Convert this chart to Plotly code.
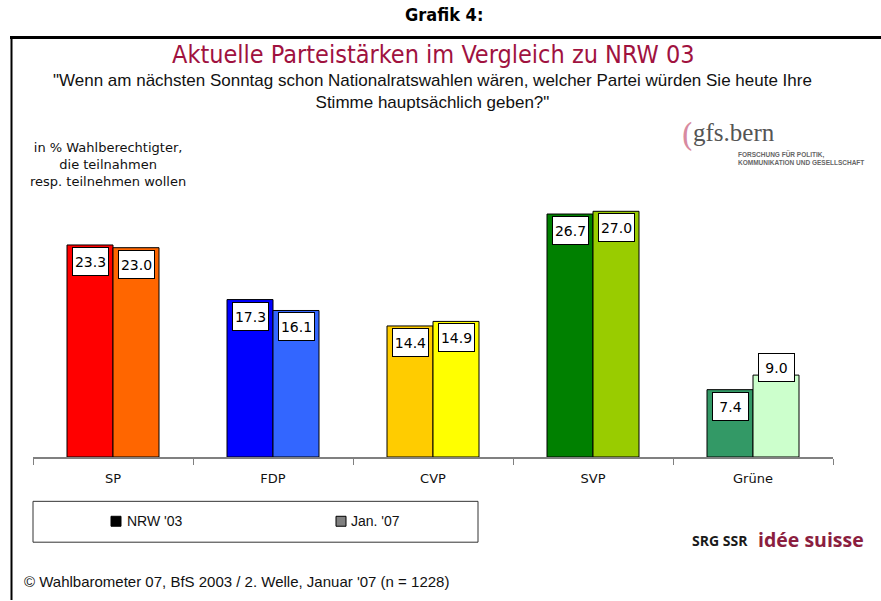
import plotly.graph_objects as go

parties = ["SP", "FDP", "CVP", "SVP", "Grüne"]
nrw03 = [23.3, 17.3, 14.4, 26.7, 7.4]
jan07 = [23.0, 16.1, 14.9, 27.0, 9.0]
colors_nrw = ["#FF0000", "#0000FF", "#FFCC00", "#008000", "#339966"]
colors_jan = ["#FF6600", "#3366FF", "#FFFF00", "#99CC00", "#CCFFCC"]
series_names = ["NRW '03", "Jan. '07"]

title = "Aktuelle Parteistärken im Vergleich zu NRW 03"
subtitle = ("\"Wenn am nächsten Sonntag schon Nationalratswahlen wären, welcher Partei würden Sie heute Ihre"
            "<br>Stimme hauptsächlich geben?\"")
ylabel = "in % Wahlberechtigter,<br>die teilnahmen<br>resp. teilnehmen wollen"
footer = "© Wahlbarometer 07, BfS 2003 / 2. Welle, Januar '07 (n = 1228)"

W, H = 881, 601
ML, MR, MT, MB = 33, 48, 183.5, 143.5

fig = go.Figure()
fig.add_trace(go.Bar(x=parties, y=nrw03, name=series_names[0],
                     marker=dict(color=colors_nrw, line=dict(color="#000000", width=1)),
                     offsetgroup=0, showlegend=False, hoverinfo="x+y"))
fig.add_trace(go.Bar(x=parties, y=jan07, name=series_names[1],
                     marker=dict(color=colors_jan, line=dict(color="#000000", width=1)),
                     offsetgroup=1, showlegend=False, hoverinfo="x+y"))

LABEL_FONT = dict(family="DejaVu Sans", size=14, color="#000000")
SANS = "Liberation Sans, Arial, sans-serif"
ann = []
for i, p in enumerate(parties):
    for k, (vals, sign) in enumerate(((nrw03, -1), (jan07, 1))):
        v = vals[i]
        shift = -2
        anchor = "top"
        if p == "Grüne" and k == 1:
            anchor = "middle"
            shift = 8
        ann.append(dict(x=i + sign * 0.14375, y=v, xref="x", yref="y",
                        text=f"{v:.1f}", showarrow=False, font=LABEL_FONT,
                        yanchor=anchor, yshift=shift, bgcolor="#FFFFFF",
                        width=31, height=23, borderpad=2,
                        bordercolor="#000000", borderwidth=1))

ann.append(dict(x=444, y=13, text="<b>Grafik 4:</b>", showarrow=False,
                font=dict(family="DejaVu Sans Condensed, sans-serif", size=18, color="#000"),
                xanchor="center", yanchor="middle"))
ann.append(dict(x=433, y=54, text=title, showarrow=False,
                font=dict(family="DejaVu Sans Condensed, sans-serif", size=25, color="#A0123F"),
                xanchor="center", yanchor="middle"))
ann.append(dict(x=432, y=91, text=subtitle, showarrow=False,
                font=dict(family=SANS, size=17, color="#111"),
                xanchor="center", yanchor="middle"))
ann.append(dict(x=108, y=164, text=ylabel, showarrow=False,
                font=dict(family="DejaVu Sans, sans-serif", size=13, color="#111"),
                xanchor="center", yanchor="middle"))
# gfs.bern logo
ann.append(dict(x=679, y=134, text="(", showarrow=False,
                font=dict(family="DejaVu Serif, serif", size=32, color="#D88AA0"),
                xanchor="left", yanchor="middle"))
ann.append(dict(x=691, y=132, text="gfs.bern", showarrow=False,
                font=dict(family="Liberation Serif, serif", size=25, color="#555555"),
                xanchor="left", yanchor="middle"))
ann.append(dict(x=736, y=157, text="<b>FORSCHUNG FÜR POLITIK,<br>KOMMUNIKATION UND GESELLSCHAFT</b>",
                showarrow=False, align="left",
                font=dict(family=SANS, size=6.5, color="#666666"),
                xanchor="left", yanchor="middle"))
# legend
LEG_X0, LEG_X1, LEG_Y0, LEG_Y1 = 33, 478, 502, 543
ann.append(dict(x=125, y=522, text=series_names[0], showarrow=False,
                font=dict(family=SANS, size=14, color="#111"),
                xanchor="left", yanchor="middle"))
ann.append(dict(x=349, y=522, text=series_names[1], showarrow=False,
                font=dict(family=SANS, size=14, color="#111"),
                xanchor="left", yanchor="middle"))
# SRG SSR logo
ann.append(dict(x=690, y=541, text="<b>SRG SSR</b>", showarrow=False,
                font=dict(family="Open Sans, sans-serif", size=14, color="#1a1a1a"),
                xanchor="left", yanchor="middle"))
ann.append(dict(x=756, y=540, text="<b>idée suisse</b>", showarrow=False,
                font=dict(family="Open Sans, sans-serif", size=19.5, color="#8B1E3F"),
                xanchor="left", yanchor="middle"))
ann.append(dict(x=22, y=582, text=footer, showarrow=False,
                font=dict(family=SANS, size=15, color="#111"),
                xanchor="left", yanchor="middle"))

final_ann = []
for a in ann:
    if a.get("xref") == "x":
        final_ann.append(a)
        continue
    a = dict(a)
    a["xref"] = "paper"
    a["yref"] = "paper"
    a["x"] = (a["x"] - ML) / (W - ML - MR)
    a["y"] = (H - a["y"] - MB) / (H - MT - MB)
    final_ann.append(a)

def px_shape(x0, y0, x1, y1, **kw):
    return dict(xref="paper", yref="paper",
                x0=(x0 - ML) / (W - ML - MR), x1=(x1 - ML) / (W - ML - MR),
                y0=(H - y0 - MB) / (H - MT - MB), y1=(H - y1 - MB) / (H - MT - MB), **kw)

shapes = [
    px_shape(10, 36.5, 881, 36.5, type="line", line=dict(color="#000", width=3)),
    px_shape(11.5, 36, 11.5, 601, type="line", line=dict(color="#000", width=2)),
    px_shape(LEG_X0, LEG_Y0, LEG_X1, LEG_Y1, type="rect", line=dict(color="#333", width=1)),
    px_shape(111, 517, 121, 527, type="rect", line=dict(color="#000", width=1), fillcolor="#000"),
    px_shape(336, 517, 346, 527, type="rect", line=dict(color="#000", width=1), fillcolor="#808080"),
]

fig.update_layout(
    width=W, height=H,
    margin=dict(l=ML, r=MR, t=MT, b=MB, autoexpand=False),
    paper_bgcolor="#FFFFFF", plot_bgcolor="#FFFFFF",
    barmode="group", bargap=0.425, bargroupgap=0,
    showlegend=False,
    annotations=final_ann, shapes=shapes,
    xaxis=dict(showline=True, linecolor="#808080", linewidth=2, ticks="outside", tickson="boundaries",
               ticklen=6, tickcolor="#808080", tickwidth=1, showgrid=False, zeroline=False,
               ticklabelstandoff=8,
               tickfont=dict(family="DejaVu Sans, sans-serif", size=13, color="#111"),
               fixedrange=True),
    yaxis=dict(range=[0, 30], visible=False, showgrid=False, zeroline=False, fixedrange=True),
)

fig.write_html("out.html", config={"displayModeBar": False},
               post_script="document.body.style.margin='0px';")
